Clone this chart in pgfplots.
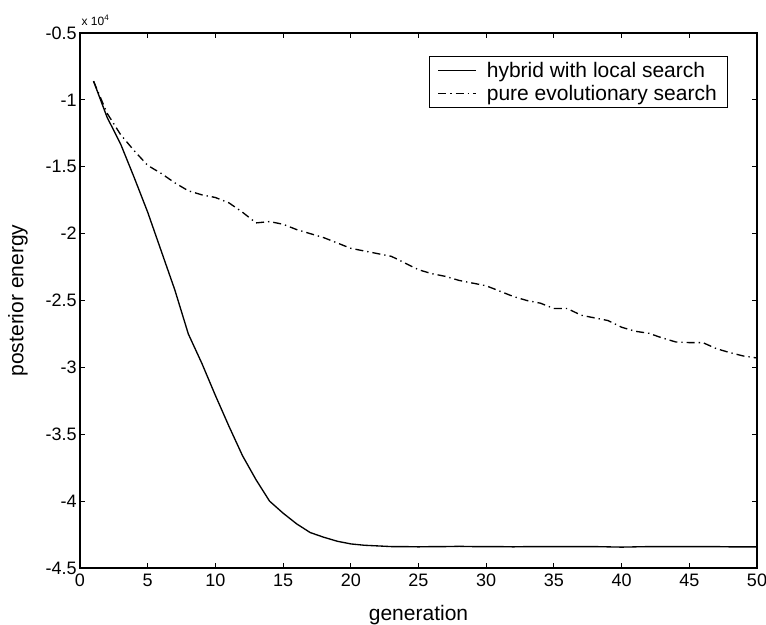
\documentclass[border=0pt]{standalone}
\usepackage{fontspec}
\setmainfont{Liberation Sans}
\usepackage{pgfplots}
\pgfplotsset{compat=1.18}
\usepackage{pgfplotstable}

\pgfplotstableread{
gen hybrid
1 -0.86
2 -1.13
3 -1.33
4 -1.58
5 -1.84
6 -2.13
7 -2.42
8 -2.75
9 -2.97
10 -3.21
11 -3.44
12 -3.66
13 -3.84
14 -4.00
15 -4.09
16 -4.17
17 -4.235
18 -4.27
19 -4.30
20 -4.32
21 -4.33
22 -4.335
23 -4.34
24 -4.34
25 -4.342
26 -4.34
27 -4.34
28 -4.338
29 -4.34
30 -4.34
31 -4.34
32 -4.342
33 -4.34
34 -4.34
35 -4.34
36 -4.34
37 -4.34
38 -4.34
39 -4.342
40 -4.344
41 -4.342
42 -4.34
43 -4.34
44 -4.34
45 -4.34
46 -4.34
47 -4.34
48 -4.342
49 -4.342
50 -4.342
}\hybridtable

\pgfplotstableread{
gen pure
1 -0.86
2 -1.10
3 -1.26
4 -1.38
5 -1.49
6 -1.55
7 -1.62
8 -1.68
9 -1.71
10 -1.73
11 -1.77
12 -1.84
13 -1.92
14 -1.91
15 -1.93
16 -1.97
17 -2.00
18 -2.03
19 -2.07
20 -2.11
21 -2.13
22 -2.15
23 -2.17
24 -2.22
25 -2.27
26 -2.30
27 -2.32
28 -2.35
29 -2.37
30 -2.39
31 -2.43
32 -2.47
33 -2.50
34 -2.52
35 -2.56
36 -2.56
37 -2.61
38 -2.63
39 -2.65
40 -2.70
41 -2.73
42 -2.745
43 -2.78
44 -2.81
45 -2.815
46 -2.815
47 -2.86
48 -2.89
49 -2.915
50 -2.93
}\puretable

\begin{document}
\begin{tikzpicture}
\begin{axis}[
  scale only axis,
  width=507.75pt, height=401.25pt,
  xmin=0, xmax=50, ymin=-4.5, ymax=-0.5,
  xtick={0,5,...,50},
  ytick={-4.5,-4,-3.5,-3,-2.5,-2,-1.5,-1,-0.5},
  tick align=inside,
  major tick length=4pt,
  axis line style={line width=0.9pt},
  every tick/.style={line width=0.7pt, black},
  /pgf/number format/assume math mode=true,
  yticklabel style={/pgf/number format/fixed, font=\fontsize{13.5}{15}\selectfont, xshift=1pt},
  xticklabel style={font=\fontsize{13.5}{15}\selectfont, yshift=-1pt},
  xlabel={generation},
  ylabel={posterior energy},
  label style={font=\fontsize{15.75}{18}\selectfont},
  xlabel style={at={(axis description cs:0.5,-0.0879)}, anchor=center},
  ylabel style={at={(axis description cs:-0.0916,0.5)}, anchor=center},
  legend style={at={(rel axis cs:1,1)}, anchor=north east, xshift=-21.75pt, yshift=-17.25pt,
    font=\fontsize{15.75}{17}\selectfont, draw=black, line width=0.8pt,
    inner xsep=6pt, inner ysep=2pt, row sep=0.5pt,
    /tikz/every odd column/.append style={column sep=6pt}},
  legend cell align=left,
  legend image code/.code={\draw[#1] (0pt,0pt) -- (28pt,0pt);},
]
\addplot[black, line width=1pt] table[x=gen, y=hybrid] {\hybridtable};
\addlegendentry{hybrid with local search}
\addplot[black, line width=1pt, dash pattern=on 6pt off 3pt on 1pt off 3pt] table[x=gen, y=pure] {\puretable};
\addlegendentry{pure evolutionary search}
\coordinate (bl) at (rel axis cs:0,0);
\coordinate (tr) at (rel axis cs:1,1);
\coordinate (tl) at (rel axis cs:0,1);
\end{axis}
\node[anchor=south west, font=\fontsize{9}{11}\selectfont, inner sep=0pt] at ([xshift=1pt, yshift=5pt]tl) {x 10\textsuperscript{4}};
\pgfresetboundingbox
\path[use as bounding box] ([xshift=-60pt,yshift=-42.75pt]bl) rectangle ([xshift=6.75pt,yshift=24.75pt]tr);
\end{tikzpicture}
\end{document}
